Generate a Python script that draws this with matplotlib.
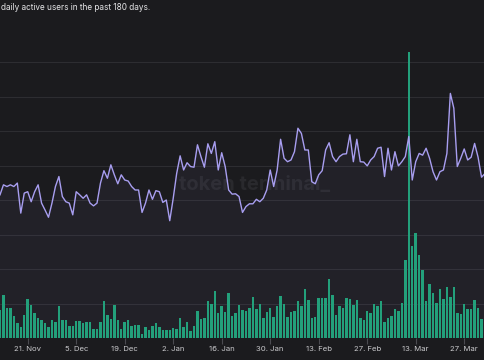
import matplotlib
matplotlib.use("Agg")
import matplotlib.pyplot as plt
import numpy as np
import pandas as pd

# ---- data ----
start_date = "2022-11-13"
line_vals = [4.15,4.44,4.39,4.44,4.39,4.49,3.62,4.20,4.24,3.95,
             4.24,4.44,3.91,3.71,3.50,3.91,4.39,4.68,4.10,3.95,
             3.91,3.57,4.24,4.15,4.05,4.15,3.91,3.83,3.91,4.49,
             4.85,4.63,5.02,4.73,4.47,4.73,4.58,4.55,4.39,4.29,
             4.29,3.64,3.91,4.29,4.02,4.27,4.24,3.93,4.00,3.40,
             4.05,4.77,5.28,4.87,5.08,4.97,4.95,5.60,5.26,4.95,
             5.63,5.35,5.69,4.87,5.37,4.97,4.29,4.17,4.18,4.10,
             3.64,3.81,3.89,3.89,4.02,3.95,4.05,4.29,4.87,4.39,
             4.87,5.76,5.21,5.11,5.16,5.40,6.08,5.93,5.45,5.45,
             4.53,4.47,4.73,4.85,5.45,5.66,5.26,5.11,5.26,5.33,
             5.34,5.89,5.11,5.76,5.11,5.10,4.99,5.16,5.26,5.50,
             5.53,4.68,5.50,4.87,5.40,4.99,5.11,5.26,5.84,4.58,
             5.11,5.35,5.30,5.50,5.21,4.82,4.58,4.82,4.87,5.35,
             7.09,6.66,4.97,5.21,5.48,5.16,5.24,5.64,5.24,4.66,4.77]
bar_vals = [0.82,1.26,0.87,0.87,0.65,0.43,0.31,0.68,1.14,0.95,
            0.72,0.58,0.53,0.43,0.31,0.53,0.45,0.94,0.51,0.51,
            0.34,0.34,0.50,0.50,0.43,0.46,0.45,0.26,0.26,0.45,
            1.06,0.68,0.55,0.97,0.51,0.27,0.46,0.52,0.34,0.38,
            0.37,0.12,0.31,0.24,0.34,0.44,0.33,0.24,0.24,0.22,
            0.30,0.26,0.57,0.31,0.45,0.19,0.35,0.78,0.54,0.57,
            1.07,0.99,1.36,0.73,0.92,0.76,1.31,0.63,0.72,0.96,
            0.80,0.78,0.86,1.20,0.84,0.99,0.57,0.74,0.88,0.60,
            0.94,1.23,0.98,0.62,0.74,0.78,1.07,0.94,1.42,1.10,
            0.57,0.62,1.15,1.17,1.17,1.71,1.25,0.67,0.94,0.86,
            1.17,1.13,0.96,1.10,0.57,0.52,0.79,0.73,0.99,0.93,
            1.08,0.46,0.57,0.64,0.83,0.79,1.01,2.25,8.30,2.68,
            3.03,2.41,1.96,1.06,1.57,1.29,1.02,1.41,1.13,1.47,
            1.20,1.49,0.72,0.70,0.99,0.85,0.85,1.11,0.86,0.54,0.63]
tick_dates = ["2022-11-21","2022-12-05","2022-12-19","2023-01-02","2023-01-16",
              "2023-01-30","2023-02-13","2023-02-27","2023-03-13","2023-03-27"]
tick_labels = ["21. Nov","5. Dec","19. Dec","2. Jan","16. Jan",
               "30. Jan","13. Feb","27. Feb","13. Mar","27. Mar"]
title_text = "daily active users in the past 180 days."
watermark = "token terminal_"

dates = pd.date_range(start_date, periods=len(line_vals), freq="D")

# ---- style ----
BG = "#1b1b1e"
GRID = "#2d2d31"
LINE = "#a89ef0"
BAR = "#23a07b"
TXT = "#c9c9cc"

plt.rcParams['font.family'] = ['Inter', 'DejaVu Sans']

fig = plt.figure(figsize=(4.85, 3.6), dpi=100, facecolor=BG)
ax = fig.add_axes([0.0, 22/360, 1.0, 338/360])
ax.set_facecolor(BG)

ax.text(0.525, 1 - 185/360, watermark, transform=fig.transFigure,
        color="#29292d", fontsize=14.5, fontweight='bold',
        ha='center', va='center', zorder=0.5)
ax.bar(dates, bar_vals, width=0.72, color=BAR, zorder=2, linewidth=0)
ax.fill_between(dates, line_vals, 0, color=LINE, alpha=0.05, zorder=1, linewidth=0)
ax.plot(dates, line_vals, color=LINE, linewidth=1.0, zorder=3)

ax.set_xlim(dates[0], dates[-1])
ax.set_ylim(0, 338/34.5)
ax.set_yticks(np.arange(1, 9))
ax.yaxis.grid(True, color=GRID, linewidth=0.8, zorder=0)
ax.set_axisbelow(True)
ax.tick_params(axis='y', left=False, labelleft=False)
ax.set_xticks(pd.to_datetime(tick_dates))
ax.set_xticklabels(tick_labels)
ax.tick_params(axis='x', colors="#4a4a50", length=4, width=0.8, pad=2,
               labelsize=5.6, labelcolor=TXT)
for s in ax.spines.values():
    s.set_visible(False)

fig.text(0.002, 1 - 8/360, title_text, color="#e6e6e8", fontsize=5.9,
         ha='left', va='center')

fig.savefig("out.png", dpi=100, facecolor=BG)
